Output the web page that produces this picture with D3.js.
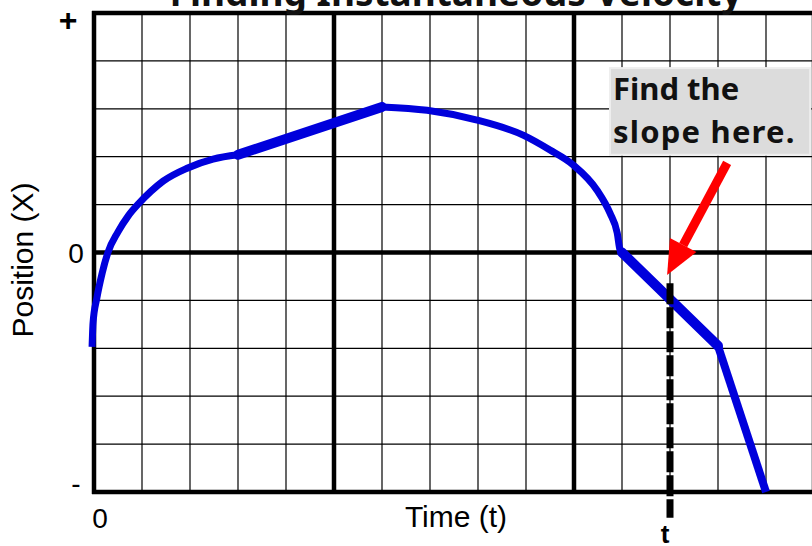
<!DOCTYPE html>
<html>
<head>
<meta charset="utf-8">
<script src="https://cdn.jsdelivr.net/npm/d3@7"></script>
<style>
  html, body { margin: 0; padding: 0; background: #fff; }
  svg { display: block; }
</style>
</head>
<body>
<div id="chart"></div>
<script>
// --- data (time in grid cells, position in grid cells) ---
const title = 'Finding Instantaneous Velocity';
const xLabel = 'Time (t)';
const yLabel = 'Position (X)';
const yTickValues = [5, 0, -5];
const yTickLabels = ['+', '0', '-'];
const xTickValues = [0];
const xTickLabels = ['0'];
const gridCols = [0, 1, 2, 3, 4, 5, 6, 7, 8, 9, 10, 11, 12, 13, 14, 15];
const gridRows = [-5, -4, -3, -2, -1, 0, 1, 2, 3, 4, 5];
const majorCols = [0, 5, 10, 15];
const majorRows = [-5, 0, 5];

// rising curve
const riseT = [-0.04, -0.02, 0.06, 0.17, 0.29, 0.5, 0.71, 0.94, 1.19, 1.44, 1.94, 2.48, 3];
const riseX = [-1.97, -1.47, -0.95, -0.43, 0, 0.43, 0.76, 1.03, 1.28, 1.49, 1.76, 1.95, 2.04];
// straight climb
const climbT = [3, 6];
const climbX = [2.04, 3.04];
// dome
const domeT = [6, 6.94, 7.96, 8.94, 9.5, 9.98, 10.48, 10.75, 10.9, 10.96, 11];
const domeX = [3.04, 2.97, 2.77, 2.45, 2.14, 1.83, 1.30, 0.82, 0.41, 0.05, 0];
// straight fall
const fallT = [11, 13];
const fallX = [0, -1.95];
// steep drop
const dropT = [13, 14];
const dropX = [-1.95, -5];

// annotation
const markT = 12;
const markRange = [-0.64, -5.54];
const noteLines = ['Find the', 'slope here.'];
const noteBox = { t0: 10.75, t1: 14.92, x0: 3.85, x1: 2.04 };
const arrowFrom = [13.19, 1.87];
const arrowTo = [11.94, -0.47];

const width = 812, height = 546;
const x = d3.scaleLinear().domain([0, 15]).range([94, 814]);
const y = d3.scaleLinear().domain([-5, 5]).range([492, 13]);

const svg = d3.select('#chart').append('svg')
  .attr('width', width).attr('height', height);

const blue = '#0000dc';
const sans = '"Liberation Sans", Arial, sans-serif';

// thin grid
svg.append('g').selectAll('line').data(gridCols).join('line')
  .attr('x1', d => x(d)).attr('x2', d => x(d))
  .attr('y1', y(5)).attr('y2', y(-5))
  .attr('stroke', '#000').attr('stroke-width', 1.2);
svg.append('g').selectAll('line').data(gridRows).join('line')
  .attr('x1', x(0)).attr('x2', x(15))
  .attr('y1', d => y(d)).attr('y2', d => y(d))
  .attr('stroke', '#000').attr('stroke-width', 1.2);

// thick frame / axes
svg.append('g').selectAll('line').data(majorCols).join('line')
  .attr('x1', d => x(d)).attr('x2', d => x(d))
  .attr('y1', y(5) - 2).attr('y2', y(-5) + 2)
  .attr('stroke', '#000').attr('stroke-width', 4.5);
svg.append('g').selectAll('line').data(majorRows).join('line')
  .attr('x1', x(0) - 2).attr('x2', x(15))
  .attr('y1', d => y(d)).attr('y2', d => y(d))
  .attr('stroke', '#000').attr('stroke-width', 4.5);

// note box (covers grid)
svg.append('rect')
  .attr('x', x(noteBox.t0)).attr('y', y(noteBox.x0))
  .attr('width', x(noteBox.t1) - x(noteBox.t0))
  .attr('height', y(noteBox.x1) - y(noteBox.x0))
  .attr('fill', '#dcdcdc').attr('stroke', '#eeeeee').attr('stroke-width', 2);

svg.append('g').selectAll('text').data(noteLines).join('text')
  .attr('x', x(noteBox.t0) + 3)
  .attr('y', (d, i) => y(noteBox.x0) + 32 + i * 43)
  .attr('font-family', '"Noto Sans", sans-serif').attr('font-weight', 700)
  .attr('font-size', 31).attr('fill', '#111')
  .attr('letter-spacing', (d, i) => i === 1 ? 1.2 : 0)
  .text(d => d);

// curve pieces
const line = d3.line().x(d => x(d[0])).y(d => y(d[1]));
const smooth = d3.line().x(d => x(d[0])).y(d => y(d[1])).curve(d3.curveMonotoneX);
const pieces = [
  { t: riseT, v: riseX, w: 7, gen: smooth, cap: 'butt' },
  { t: domeT, v: domeX, w: 7, gen: smooth, cap: 'round' },
  { t: climbT, v: climbX, w: 10, gen: line, cap: 'round' },
  { t: dropT, v: dropX, w: 8, gen: line, cap: 'butt' },
  { t: fallT, v: fallX, w: 10, gen: line, cap: 'round' },
];
svg.append('g').selectAll('path').data(pieces).join('path')
  .attr('d', p => p.gen(p.t.map((t, i) => [t, p.v[i]])))
  .attr('fill', 'none').attr('stroke', blue)
  .attr('stroke-width', p => p.w)
  .attr('stroke-linecap', p => p.cap).attr('stroke-linejoin', 'round');

// dashed marker at t
svg.append('line')
  .attr('x1', x(markT)).attr('x2', x(markT))
  .attr('y1', y(markRange[0])).attr('y2', y(markRange[1]))
  .attr('stroke', '#000').attr('stroke-width', 7)
  .attr('stroke-dasharray', '21,3');
svg.append('text')
  .attr('x', x(markT) - 5).attr('y', 543)
  .attr('text-anchor', 'middle')
  .attr('font-family', sans).attr('font-weight', 700).attr('font-size', 26)
  .text('t');

// red arrow
const ax0 = x(arrowFrom[0]), ay0 = y(arrowFrom[1]);
const ax1 = x(arrowTo[0]), ay1 = y(arrowTo[1]);
const ang = Math.atan2(ay1 - ay0, ax1 - ax0);
const headLen = 34, headHalf = 15;
const bx = ax1 - headLen * Math.cos(ang), by = ay1 - headLen * Math.sin(ang);
svg.append('line')
  .attr('x1', ax0).attr('y1', ay0).attr('x2', bx).attr('y2', by)
  .attr('stroke', '#ff0000').attr('stroke-width', 9);
svg.append('path')
  .attr('d', d3.line()([
    [ax1, ay1],
    [bx + headHalf * Math.sin(ang), by - headHalf * Math.cos(ang)],
    [bx - headHalf * Math.sin(ang), by + headHalf * Math.cos(ang)],
  ]) + 'Z')
  .attr('fill', '#ff0000');

// tick labels
svg.append('g').selectAll('text').data(yTickValues).join('text')
  .attr('x', (d, i) => i === 0 ? 68 : 76)
  .attr('y', d => y(d))
  .attr('dy', (d, i) => i === 0 ? '0.55em' : (i === 1 ? '0.36em' : '0.05em'))
  .attr('text-anchor', 'middle')
  .attr('font-family', sans).attr('font-size', (d, i) => i === 0 ? 32 : 28)
  .attr('font-weight', (d, i) => i === 0 ? 700 : 400)
  .text((d, i) => yTickLabels[i]);
svg.append('g').selectAll('text').data(xTickValues).join('text')
  .attr('x', d => x(d) + 6).attr('y', 528)
  .attr('text-anchor', 'middle')
  .attr('font-family', sans).attr('font-size', 28)
  .text((d, i) => xTickLabels[i]);

// axis titles
svg.append('text')
  .attr('x', 456).attr('y', 527)
  .attr('text-anchor', 'middle')
  .attr('font-family', sans).attr('font-size', 30)
  .text(xLabel);
svg.append('text')
  .attr('transform', 'translate(33,260) rotate(-90)')
  .attr('text-anchor', 'middle')
  .attr('font-family', sans).attr('font-size', 29)
  .attr('textLength', 155).attr('lengthAdjust', 'spacingAndGlyphs')
  .text(yLabel);

// title, mostly cut off by the top edge
svg.append('text')
  .attr('x', 456).attr('y', 6)
  .attr('text-anchor', 'middle')
  .attr('font-family', '"Noto Sans", sans-serif').attr('font-weight', 700)
  .attr('font-size', 37).attr('fill', '#111')
  .text(title);
</script>
</body>
</html>
